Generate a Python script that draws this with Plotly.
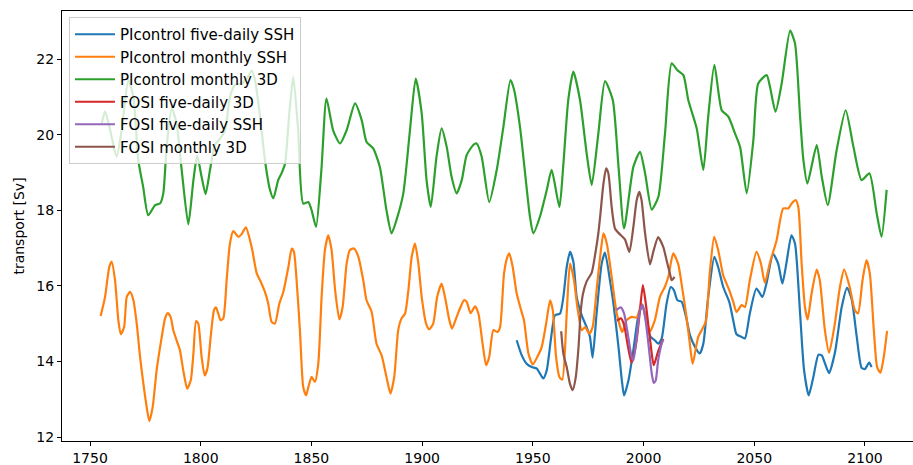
import plotly.graph_objects as go

# ---------------- data ----------------
pi5_ssh_years = [1942.7, 1945.0, 1947.2, 1949.5, 1951.8, 1954.7, 1956.3, 1958.1, 1960.0, 1962.3,
                 1963.8, 1965.3, 1966.8, 1968.3, 1969.8, 1972.1, 1974.3, 1975.8, 1977.0, 1978.8,
                 1981.1, 1982.6, 1984.9, 1986.4, 1988.7, 1990.2, 1991.2, 1993.2, 1995.4, 1997.7,
                 1999.6, 2001.4, 2003.2, 2005.1, 2006.7, 2008.2, 2010.4, 2012.3, 2013.7, 2015.3,
                 2017.2, 2019.2, 2021.0, 2023.3, 2025.4, 2027.0, 2029.2, 2032.0, 2033.7, 2036.0,
                 2038.7, 2040.5, 2042.0, 2044.3, 2045.8, 2048.0, 2051.0, 2053.7, 2055.5, 2058.5,
                 2060.8, 2062.7, 2064.5, 2066.8, 2068.4, 2070.7, 2072.5, 2074.6, 2076.7, 2079.0,
                 2080.5, 2082.0, 2083.8, 2086.5, 2089.5, 2091.9, 2094.0, 2096.3, 2098.5, 2100.0,
                 2101.9, 2103.0]
pi5_ssh_vals = [14.56, 14.16, 13.94, 13.85, 13.81, 13.55, 13.77, 14.56, 15.22, 15.27,
                15.71, 16.50, 16.90, 16.64, 15.71, 15.22, 14.91, 14.65, 14.10, 15.27,
                16.59, 16.88, 16.12, 15.53, 14.38, 13.50, 13.10, 13.50, 14.30, 15.22,
                15.49, 15.00, 14.65, 14.56, 14.47, 14.61, 15.53, 15.97, 15.89, 15.62,
                15.58, 15.18, 14.69, 14.38, 14.21, 14.47, 15.71, 16.77, 16.50, 15.97,
                15.58, 15.09, 14.72, 14.65, 14.61, 15.27, 15.93, 15.71, 16.06, 16.84,
                16.59, 16.06, 16.59, 17.34, 17.12, 15.27, 13.77, 13.10, 13.59, 14.18,
                14.16, 13.94, 13.69, 14.25, 15.44, 15.95, 15.65, 14.65, 13.83, 13.80,
                13.97, 13.85]

pim_ssh_years = [1754.8, 1756.8, 1758.7, 1759.8, 1761.3, 1762.8, 1763.9, 1765.4, 1766.6, 1768.1,
                 1769.6, 1771.1, 1772.6, 1774.1, 1775.6, 1776.8, 1778.3, 1780.1, 1782.4, 1783.9,
                 1785.1, 1786.4, 1787.6, 1789.1, 1790.6, 1792.1, 1793.9, 1795.5, 1796.7, 1797.9,
                 1798.9, 1800.4, 1801.8, 1803.0, 1804.5, 1806.0, 1806.9, 1807.9, 1809.0, 1810.2,
                 1811.7, 1813.2, 1814.7, 1817.0, 1818.5, 1820.4, 1823.0, 1825.3, 1826.8, 1829.0,
                 1830.5, 1832.0, 1833.5, 1835.5, 1837.3, 1839.6, 1841.1, 1842.1, 1843.3, 1844.8,
                 1846.3, 1847.6, 1848.6, 1850.1, 1851.6, 1853.1, 1854.6, 1856.1, 1857.6, 1859.1,
                 1860.7, 1862.6, 1864.1, 1865.9, 1867.4, 1869.2, 1871.2, 1873.4, 1874.9, 1877.2,
                 1879.4, 1881.7, 1883.9, 1885.7, 1887.4, 1889.2, 1890.7, 1892.3, 1893.8, 1895.3,
                 1896.8, 1898.3, 1899.8, 1901.8, 1903.2, 1905.0, 1906.8, 1908.8, 1910.3, 1912.3,
                 1913.5, 1915.6, 1917.1, 1918.9, 1920.1, 1921.9, 1923.9, 1925.4, 1927.3, 1928.9,
                 1930.3, 1932.2, 1934.0, 1935.2, 1937.0, 1938.5, 1939.4, 1940.9, 1942.7, 1944.5,
                 1946.0, 1948.0, 1950.0, 1952.0, 1954.0, 1956.0, 1957.8, 1959.0, 1960.5, 1962.0,
                 1963.3, 1965.3, 1966.8, 1968.6, 1970.1, 1972.1, 1973.6, 1975.5, 1977.0, 1978.8,
                 1980.4, 1981.9, 1983.4, 1985.6, 1987.9, 1990.4, 1992.2, 1994.6, 1996.9, 1999.1,
                 2001.0, 2002.8, 2005.1, 2007.4, 2009.6, 2011.2, 2013.4, 2015.6, 2017.6, 2019.4,
                 2020.9, 2022.2, 2024.7, 2028.1, 2029.9, 2031.9, 2033.7, 2036.0, 2038.7, 2040.5,
                 2042.0, 2044.3, 2045.8, 2048.0, 2051.0, 2053.0, 2054.8, 2057.1, 2060.1, 2063.1,
                 2065.4, 2066.9, 2068.7, 2069.9, 2071.4, 2072.9, 2074.1, 2075.9, 2078.2, 2079.6,
                 2081.9, 2083.8, 2086.4, 2088.7, 2090.6, 2093.1, 2095.4, 2096.9, 2098.9, 2100.7,
                 2102.2, 2104.0, 2105.5, 2107.0, 2108.5, 2110.0]
pim_ssh_vals = [15.20, 15.71, 16.50, 16.64, 16.15, 15.09, 14.72, 14.91, 15.71, 15.84,
                15.62, 15.00, 14.12, 13.41, 12.79, 12.42, 12.79, 13.77, 14.65, 15.14,
                15.28, 15.18, 14.83, 14.56, 14.30, 13.77, 13.28, 13.50, 14.21, 15.07,
                15.00, 14.12, 13.63, 13.81, 14.65, 15.36, 15.43, 15.27, 15.09, 15.14,
                16.15, 17.12, 17.45, 17.30, 17.37, 17.55, 17.03, 16.33, 16.15, 15.84,
                15.53, 15.05, 15.00, 15.53, 15.84, 16.50, 16.99, 16.90, 16.15, 14.83,
                13.32, 13.10, 13.32, 13.59, 13.46, 13.94, 15.71, 16.95, 17.34, 16.95,
                15.89, 15.11, 15.44, 16.59, 16.95, 16.99, 16.77, 16.15, 15.62, 15.31,
                14.47, 14.16, 13.59, 13.15, 13.59, 14.83, 15.14, 15.27, 15.89, 16.77,
                17.12, 16.59, 15.71, 15.00, 14.85, 15.00, 15.71, 16.06, 15.71, 15.09,
                14.87, 15.18, 15.40, 15.62, 15.58, 15.28, 15.46, 15.27, 14.47, 13.90,
                14.12, 14.83, 14.78, 14.91, 16.33, 16.77, 16.86, 16.50, 15.80, 15.40,
                15.09, 14.21, 13.92, 14.12, 14.38, 15.00, 15.62, 15.36, 14.12, 13.59,
                13.52, 15.27, 16.59, 16.15, 15.44, 14.83, 14.91, 14.74, 14.91, 15.89,
                16.77, 17.39, 17.12, 16.24, 15.27, 14.78, 15.08, 15.18, 15.16, 15.53,
                15.18, 14.78, 15.09, 15.71, 15.97, 16.24, 16.86, 16.59, 15.89, 15.18,
                14.47, 13.94, 14.65, 15.05, 16.33, 17.30, 16.95, 16.28, 15.89, 15.58,
                15.31, 15.49, 15.44, 16.15, 16.90, 16.60, 16.08, 16.62, 17.21, 18.05,
                18.05, 18.18, 18.27, 18.09, 16.59, 15.44, 15.11, 15.80, 16.43, 16.15,
                14.83, 14.23, 15.00, 15.97, 16.43, 15.97, 15.36, 15.27, 16.15, 16.68,
                16.33, 14.83, 13.85, 13.70, 14.12, 14.81]

pim_3d_years = [1755.3, 1756.8, 1759.0, 1762.0, 1764.3, 1767.3, 1769.6, 1771.8, 1774.0, 1776.3,
                1779.4, 1781.6, 1783.1, 1784.6, 1786.9, 1789.1, 1791.4, 1794.4, 1796.7, 1798.4,
                1800.4, 1802.2, 1804.2, 1806.4, 1808.7, 1811.0, 1813.2, 1815.5, 1818.5, 1820.8,
                1823.0, 1824.5, 1826.8, 1829.0, 1831.3, 1832.8, 1835.0, 1836.5, 1838.1, 1840.0,
                1841.8, 1844.0, 1846.3, 1848.6, 1850.1, 1852.1, 1854.5, 1856.8, 1859.8, 1862.9,
                1865.9, 1869.7, 1872.7, 1874.9, 1877.9, 1880.9, 1883.9, 1886.2, 1888.4, 1891.5,
                1894.5, 1897.1, 1899.8, 1902.0, 1903.9, 1906.5, 1908.8, 1911.1, 1913.3, 1915.6,
                1917.9, 1920.1, 1923.1, 1924.6, 1926.9, 1930.3, 1933.7, 1936.7, 1939.9, 1941.5,
                1944.2, 1948.7, 1950.2, 1953.2, 1956.3, 1958.5, 1962.0, 1963.7, 1966.0, 1968.3,
                1971.3, 1974.3, 1976.6, 1979.6, 1982.6, 1986.1, 1988.7, 1991.2, 1995.4, 1998.4,
                2000.7, 2003.7, 2006.7, 2009.7, 2012.7, 2015.3, 2018.0, 2020.2, 2024.0, 2027.0,
                2029.2, 2032.0, 2035.3, 2038.3, 2041.3, 2043.6, 2046.6, 2049.6, 2051.8, 2055.6,
                2057.1, 2059.6, 2062.4, 2066.2, 2068.4, 2070.7, 2072.2, 2074.0, 2078.2, 2080.5,
                2083.2, 2087.2, 2091.3, 2094.8, 2098.5, 2102.0, 2105.3, 2107.5, 2109.8]
pim_3d_vals = [20.30, 20.62, 20.15, 19.42, 20.12, 21.45, 21.00, 19.33, 18.62, 17.87,
               18.14, 18.18, 18.45, 19.68, 20.70, 20.30, 19.07, 17.63, 18.80, 19.44,
               18.89, 18.43, 19.07, 19.73, 19.90, 20.12, 21.00, 21.32, 21.36, 21.49,
               21.70, 21.45, 20.48, 19.33, 18.54, 18.32, 18.80, 18.98, 19.24, 20.57,
               21.54, 20.12, 18.18, 18.22, 18.00, 17.56, 19.07, 20.96, 20.12, 19.77,
               20.12, 20.83, 20.39, 19.81, 19.64, 19.15, 18.00, 17.39, 17.74, 18.45,
               20.12, 21.49, 20.57, 18.80, 18.09, 19.42, 20.17, 19.68, 18.89, 18.45,
               18.80, 19.46, 19.73, 19.77, 19.42, 18.22, 19.07, 20.21, 21.45, 21.20,
               20.21, 17.83, 17.39, 17.83, 18.54, 19.07, 18.09, 19.15, 20.92, 21.67,
               20.92, 19.51, 18.67, 20.04, 21.42, 20.92, 19.15, 17.52, 19.15, 19.55,
               18.98, 18.02, 18.36, 20.04, 21.89, 21.71, 21.58, 20.92, 20.17, 19.07,
               20.48, 21.85, 20.65, 20.48, 20.04, 19.68, 18.45, 19.86, 21.36, 21.58,
               21.27, 20.61, 21.36, 22.76, 22.42, 20.48, 19.33, 18.71, 19.73, 18.89,
               18.14, 19.59, 20.65, 19.68, 18.80, 18.98, 17.92, 17.30, 18.54]

fosi5_3d_years = [1988.0, 1989.8, 1991.3, 1992.8, 1994.6, 1996.6, 1998.2, 1999.7, 2001.2, 2003.2,
                  2004.6, 2006.5, 2008.9]
fosi5_3d_vals = [15.08, 15.14, 14.95, 14.45, 13.97, 14.45, 15.25, 16.02, 15.45, 14.45,
                 13.90, 14.25, 14.60]

fosi5_ssh_years = [1987.8, 1989.7, 1991.2, 1993.1, 1994.6, 1995.4, 1996.9, 1998.4, 1999.5, 2000.7,
                   2002.2, 2003.7, 2004.6, 2005.5, 2006.6, 2008.2, 2008.9]
fosi5_ssh_vals = [15.36, 15.43, 15.27, 14.65, 14.12, 14.03, 14.65, 15.36, 15.49, 15.18,
                  14.47, 13.68, 13.43, 13.50, 14.03, 14.47, 14.58]

fosim_3d_years = [1962.8, 1963.8, 1965.3, 1966.8, 1968.0, 1969.3, 1970.6, 1971.6, 1972.6, 1974.3,
                  1976.6, 1978.2, 1979.6, 1980.4, 1981.9, 1983.1, 1984.1, 1985.6, 1987.1, 1989.4,
                  1991.6, 1993.6, 1995.4, 1996.9, 1998.1, 1999.1, 2000.7, 2002.9, 2004.4, 2006.6,
                  2008.9, 2010.4, 2011.9, 2012.7, 2014.0]
fosim_3d_vals = [14.80, 14.20, 13.85, 13.40, 13.24, 13.55, 14.35, 15.30, 15.78, 16.12,
                 16.35, 16.85, 17.40, 17.83, 18.71, 19.11, 18.98, 18.09, 17.52, 17.36,
                 17.23, 16.90, 17.56, 18.27, 18.49, 18.27, 17.39, 16.57, 16.90, 17.29,
                 17.03, 16.68, 16.33, 16.15, 16.24]

series_names = ["PIcontrol five-daily SSH", "PIcontrol monthly SSH", "PIcontrol monthly 3D",
                "FOSI five-daily 3D", "FOSI five-daily SSH", "FOSI monthly 3D"]
series_x = [pi5_ssh_years, pim_ssh_years, pim_3d_years, fosi5_3d_years, fosi5_ssh_years, fosim_3d_years]
series_y = [pi5_ssh_vals, pim_ssh_vals, pim_3d_vals, fosi5_3d_vals, fosi5_ssh_vals, fosim_3d_vals]
colors = ["#1f77b4", "#ff7f0e", "#2ca02c", "#d62728", "#9467bd", "#8c564b"]

x_ticks = [1750, 1800, 1850, 1900, 1950, 2000, 2050, 2100]
y_ticks = [12, 14, 16, 18, 20, 22]
y_title = "transport [Sv]"

# ---------------- figure ----------------
fig = go.Figure()
for i, (name, xs, ys, c) in enumerate(zip(series_names, series_x, series_y, colors)):
    fig.add_trace(go.Scatter(
        x=xs, y=ys, mode="lines", name=name, legendgroup=f"g{i}",
        line=dict(color=c, width=2.2, shape="spline", smoothing=0.6),
    ))

font = dict(family="DejaVu Sans", size=15, color="black")
tick_font = dict(family="DejaVu Sans", size=14, color="black")
fig.update_layout(
    width=913, height=465,
    margin=dict(l=62, r=0, t=11, b=24),
    paper_bgcolor="white", plot_bgcolor="white",
    font=font,
    showlegend=True,
    legend=dict(
        x=0.0082, y=0.986, xanchor="left", yanchor="top",
        bgcolor="rgba(255,255,255,0.8)", bordercolor="#cccccc", borderwidth=1,
        font=font, itemwidth=40,
        tracegroupgap=0,
    ),
)
fig.update_xaxes(
    range=[1737.35, 2121.7], tickvals=x_ticks, ticktext=[str(v) for v in x_ticks],
    showline=True, linecolor="black", linewidth=1, mirror=True,
    ticks="outside", ticklen=4, tickwidth=1, tickcolor="black",
    showgrid=False, zeroline=False, tickfont=tick_font, automargin=False,
)
fig.update_yaxes(
    range=[11.894, 23.277], tickvals=y_ticks, ticktext=[str(v) for v in y_ticks],
    showline=True, linecolor="black", linewidth=1, mirror=False,
    ticks="outside", ticklen=4, tickwidth=1, tickcolor="black",
    showgrid=False, zeroline=False, tickfont=tick_font, automargin=False,
    title=dict(text=y_title, font=tick_font, standoff=8),
)

fig.write_html("out.html")
